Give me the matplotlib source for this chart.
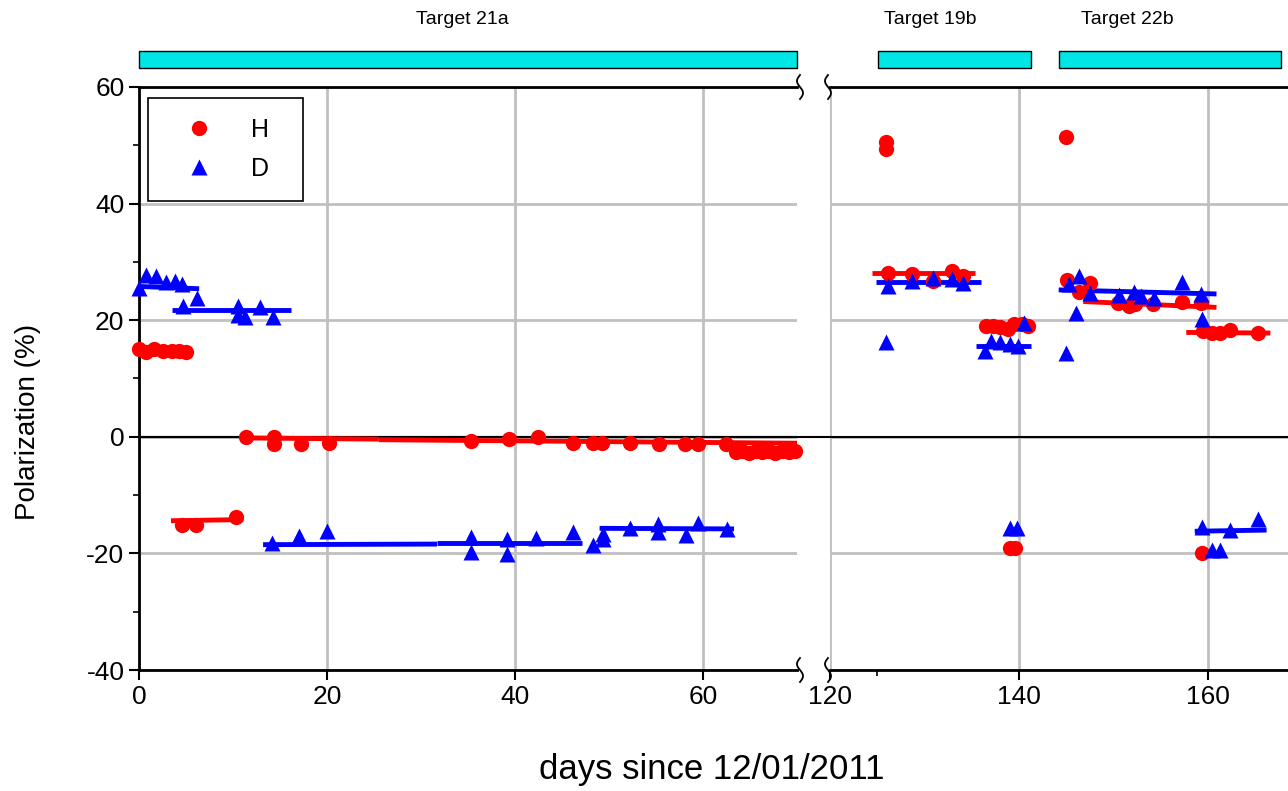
import numpy as np
import matplotlib
matplotlib.use('Agg')
import matplotlib.pyplot as plt
from matplotlib.lines import Line2D
from matplotlib.transforms import blended_transform_factory

plt.rcParams['font.family'] = ['Liberation Sans', 'DejaVu Sans']
plt.rcParams['axes.unicode_minus'] = False

# ---- data ----
# left panel (days 0-70)
h_left_x = [0, 0.7, 1.6, 2.6, 3.5, 4.3, 5.0, 4.6, 6.1, 10.3, 11.4, 14.4, 14.4, 17.2, 20.2,
            35.3, 39.4, 42.4, 46.2, 48.3, 49.3, 52.2, 55.3, 58.1, 59.5, 62.4,
            63.5, 64.2, 64.9, 65.6, 66.3, 67.0, 67.7, 68.4, 69.1, 69.8]
h_left_y = [15.0, 14.6, 15.0, 14.8, 14.7, 14.8, 14.6, -15.1, -15.1, -13.7, 0.0, 0.0, -1.3, -1.2, -1.0,
            -0.8, -0.3, -0.1, -1.0, -1.0, -1.0, -1.0, -1.2, -1.2, -1.2, -1.3,
            -2.6, -2.4, -2.7, -2.5, -2.6, -2.4, -2.7, -2.5, -2.6, -2.4]
d_left_x = [0, 0.7, 1.8, 2.9, 3.8, 4.6, 6.2, 4.7, 10.5, 10.5, 11.3, 12.9, 14.3,
            14.2, 17.0, 20.0, 35.3, 35.3, 39.2, 39.2, 42.2, 46.2, 48.3, 49.4, 49.4,
            52.2, 55.2, 55.2, 58.2, 59.5, 62.6]
d_left_y = [25.5, 27.8, 27.6, 26.5, 26.8, 26.2, 23.8, 22.4, 22.5, 20.9, 20.5, 22.2, 20.5,
            -18.3, -17.0, -16.2, -17.2, -19.7, -17.5, -20.1, -17.4, -16.4, -18.5, -17.5, -16.7,
            -15.6, -14.9, -16.3, -16.8, -14.7, -15.8]

# right panel (days 120-170)
h_right_x = [125.9, 125.9, 145.0, 126.1, 128.7, 130.9, 132.9, 134.1,
             136.5, 137.3, 138.0, 138.8, 139.5, 140.3, 141.0, 139.0, 139.6,
             145.1, 146.3, 147.5, 150.5, 151.6, 152.3, 154.2, 157.2, 159.3,
             159.5, 160.4, 161.3, 162.3, 165.3, 159.4]
h_right_y = [50.5, 49.4, 51.4, 28.1, 28.0, 26.7, 28.4, 27.5,
             19.0, 19.0, 18.8, 18.5, 19.4, 19.3, 19.0, -19.0, -19.0,
             26.9, 24.9, 26.4, 22.9, 22.4, 22.7, 22.7, 23.2, 22.9,
             18.1, 17.8, 17.8, 18.4, 17.8, -20.0]
d_right_x = [126.1, 125.9, 128.7, 130.9, 132.9, 134.1,
             136.4, 137.0, 138.0, 139.0, 139.9, 140.5, 139.0, 139.8,
             145.0, 145.3, 146.3, 146.0, 147.5, 150.6, 152.2, 152.9, 154.3, 157.3, 159.3, 159.4,
             159.4, 160.4, 161.3, 162.3, 165.3]
d_right_y = [25.8, 16.3, 26.7, 27.3, 27.1, 26.4,
             14.8, 16.5, 16.2, 15.9, 15.6, 19.5, -15.6, -15.6,
             14.3, 26.2, 27.6, 21.3, 24.6, 24.4, 24.9, 24.2, 23.8, 26.6, 24.5, 20.2,
             -15.4, -19.4, -19.5, -16.0, -14.1]

# fitted segments: (x0, x1, y0, y1)
h_fits = [(0.0, 5.2, 14.8, 14.7), (3.4, 11.1, -14.4, -14.2), (11.4, 25.5, -0.2, -0.4),
          (25.5, 70.0, -0.5, -1.1), (124.4, 135.3, 28.1, 28.1), (136.0, 141.7, 18.9, 18.6),
          (146.8, 160.9, 23.2, 22.2), (157.7, 166.6, 17.9, 17.8)]
d_fits = [(-0.2, 6.4, 25.8, 25.4), (3.5, 16.2, 21.8, 21.8), (13.2, 31.7, -18.5, -18.4),
          (31.7, 47.1, -18.2, -18.2), (49.0, 63.3, -15.7, -15.8), (124.9, 136.0, 26.5, 26.5),
          (135.5, 141.3, 15.5, 15.5), (144.2, 160.9, 25.2, 24.5), (158.6, 166.2, -16.2, -16.0)]

# targets shown as bars above the plot
target_names = ['Target 21a', 'Target 19b', 'Target 22b']
target_start = [0.0, 125.1, 144.2]
target_end = [70.0, 141.3, 167.7]
target_panel = [0, 1, 1]
target_label_x = [34.4, 130.6, 151.5]

RED = '#ff0000'
BLUE = '#0000ff'
GRID = '#c0c0c0'
MS_H, MS_D = 11, 12

fig = plt.figure(figsize=(12.88, 7.91), dpi=100)
W, H = 1288.0, 791.0
top_px, bot_px = 87, 670
ax_h = (bot_px - top_px) / H
ax1 = fig.add_axes([139 / W, 1 - bot_px / H, 658 / W, ax_h])
ax2 = fig.add_axes([830 / W, 1 - bot_px / H, 472.5 / W, ax_h])

ax1.set_xlim(0, 70)
ax2.set_xlim(120, 170)
for ax in (ax1, ax2):
    ax.set_ylim(-40, 60)
    ax.set_yticks([-40, -20, 0, 20, 40, 60])
    ax.set_yticks(np.arange(-40, 61, 10), minor=True)
    ax.grid(True, color=GRID, lw=2, zorder=0)
    ax.set_axisbelow(True)
    ax.spines['right'].set_visible(False)
    for s in ('top', 'bottom', 'left'):
        ax.spines[s].set_linewidth(2)
    ax.tick_params(axis='both', which='major', labelsize=19, width=1.5, length=7, direction='out')
    ax.tick_params(axis='both', which='minor', width=1.2, length=4, direction='out')
    ax.axhline(0, color='black', lw=1.5, zorder=1)

ax1.set_xticks([0, 20, 40, 60])
ax2.set_xticks([120, 140, 160])
ax2.set_xticks([125], minor=True)
ax2.spines['left'].set_visible(False)
ax2.tick_params(axis='y', which='both', left=False, labelleft=False)
ax1.axhline(0, xmax=1.06, color='black', lw=1.5, zorder=1, clip_on=False)

for ax, xmin, xmax in ((ax1, 0, 70), (ax2, 120, 170)):
    for x0, x1, y0, y1 in h_fits:
        if xmin - 1 <= x0 <= xmax:
            ax.plot([x0, x1], [y0, y1], color=RED, lw=3.5, solid_capstyle='butt', zorder=2)
    for x0, x1, y0, y1 in d_fits:
        if xmin - 1 <= x0 <= xmax:
            ax.plot([x0, x1], [y0, y1], color=BLUE, lw=3.5, solid_capstyle='butt', zorder=2)

ax1.plot(h_left_x, h_left_y, 'o', color=RED, ms=MS_H, mec='none', zorder=3, clip_on=False)
ax1.plot(d_left_x, d_left_y, '^', color=BLUE, ms=MS_D, mec='none', zorder=3, clip_on=False)
ax2.plot(h_right_x, h_right_y, 'o', color=RED, ms=MS_H, mec='none', zorder=3)
ax2.plot(d_right_x, d_right_y, '^', color=BLUE, ms=MS_D, mec='none', zorder=3)

# target bars
axes = (ax1, ax2)
for name, x0, x1, p, lx in zip(target_names, target_start, target_end, target_panel, target_label_x):
    ax = axes[p]
    tr = blended_transform_factory(ax.transData, ax.transAxes)
    ax.add_patch(plt.Rectangle((x0, 1.0326), x1 - x0, 0.029, transform=tr,
                               facecolor='#00e6e6', edgecolor='black', lw=1, clip_on=False))
    ax.text(lx, 1.115, name, transform=tr, ha='center', va='center', fontsize=14)

# axis break marks
t = np.linspace(-1, 1, 40)
for xp in (800, 828):
    for yp in (top_px, bot_px):
        xs = (xp + 3 * np.sin(np.pi * t)) / W
        ys = 1 - (yp + 12 * t) / H
        fig.add_artist(Line2D(xs, ys, color='black', lw=1.3, transform=fig.transFigure))

# legend
handles = [Line2D([], [], ls='none', marker='o', color=RED, ms=MS_H, mec='none'),
           Line2D([], [], ls='none', marker='^', color=BLUE, ms=MS_D, mec='none')]
leg = ax1.legend(handles, ['H', 'D'], loc='upper left', bbox_to_anchor=(0.0137, 0.981),
                 borderaxespad=0, fontsize=18, frameon=True, fancybox=False,
                 edgecolor='black', framealpha=1, handlelength=2.5, handletextpad=0.8,
                 borderpad=0.8, labelspacing=0.6)
leg.get_frame().set_linewidth(1.2)
# widen the box on the right, as in the reference
leg._legend_box.align = 'left'
for txt in leg.get_texts():
    txt.set_text(txt.get_text() + '  ')

fig.text(28 / W, 1 - 422 / H, 'Polarization (%)', rotation=90, ha='center', va='center', fontsize=20)
fig.text(712 / W, 1 - 770 / H, 'days since 12/01/2011', ha='center', va='center', fontsize=25)

fig.savefig('out.png', dpi=100)
